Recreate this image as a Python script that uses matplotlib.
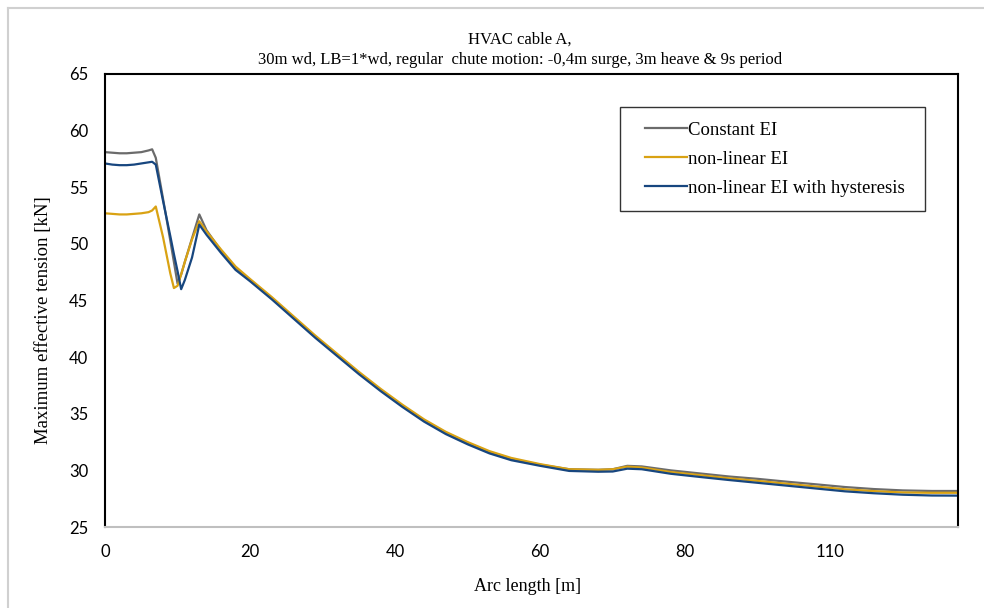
import numpy as np
import matplotlib.pyplot as plt
from matplotlib.lines import Line2D
from matplotlib.legend_handler import HandlerLine2D

# Kategoriposisjon langs x-aksen (Excel-linjediagram, ujevn buelengde)
pos = [0, 1, 2, 3, 4, 5, 6, 6.5, 7, 8, 9, 9.5, 10, 10.5, 11, 12, 13, 14, 16, 18,
       20, 23, 26, 29, 32, 35, 38, 41, 44, 47, 50, 53, 56, 60, 64, 68, 70, 72, 74, 78,
       82, 86, 90, 94, 98, 102, 106, 110, 114, 117.6]

const_ei = [58.1, 58.05, 58.0, 58.0, 58.05, 58.1, 58.25, 58.35, 57.6, 54.0, 50.3, 48.4, 46.5, 47.3, 48.4, 50.5, 52.6, 51.2, 49.4, 47.9,
            46.8, 45.2, 43.5, 41.8, 40.2, 38.6, 37.1, 35.7, 34.4, 33.3, 32.4, 31.6, 31.0, 30.5, 30.1, 30.05, 30.1, 30.4, 30.35, 30.0,
            29.73, 29.46, 29.25, 29.0, 28.77, 28.53, 28.35, 28.23, 28.18, 28.18]

nonlin_ei = [52.7, 52.65, 52.6, 52.6, 52.65, 52.7, 52.8, 52.95, 53.3, 50.6, 47.4, 46.1, 46.3, 47.3, 48.4, 50.4, 52.0, 51.1, 49.5, 48.0,
             46.9, 45.3, 43.6, 41.9, 40.3, 38.7, 37.2, 35.8, 34.5, 33.4, 32.5, 31.7, 31.1, 30.55, 30.1, 30.05, 30.1, 30.33, 30.25, 29.85,
             29.58, 29.3, 29.07, 28.82, 28.57, 28.33, 28.17, 28.05, 28.02, 28.02]

hyst_ei = [57.1, 57.0, 56.95, 56.95, 57.0, 57.1, 57.2, 57.25, 57.0, 53.8, 50.7, 49.1, 47.6, 46.0, 46.8, 48.8, 51.7, 50.8, 49.2, 47.7,
           46.7, 45.1, 43.4, 41.7, 40.1, 38.5, 37.0, 35.6, 34.3, 33.2, 32.3, 31.5, 30.9, 30.4, 29.95, 29.88, 29.9, 30.15, 30.1, 29.7,
           29.42, 29.15, 28.9, 28.65, 28.4, 28.15, 27.98, 27.85, 27.78, 27.77]

labels = ["Constant EI", "non-linear EI", "non-linear EI with hysteresis"]
xtick_pos = [0, 20, 40, 60, 80, 100]
xtick_lab = ["0", "20", "40", "60", "80", "110"]

serif = "Liberation Serif"

fig = plt.figure(figsize=(9.84, 6.08), dpi=100)
ax = fig.add_axes([105/984, 1-527/608, (958-105)/984, (527-74)/608])

ax.plot(pos, const_ei, color="#6b6b6b", lw=1.6, label=labels[0])
ax.plot(pos, nonlin_ei, color="#D9A213", lw=1.6, label=labels[1])
ax.plot(pos, hyst_ei, color="#17467F", lw=1.6, label=labels[2])

ax.set_xlim(0, 117.6)
ax.set_ylim(25, 65)
ax.set_yticks(np.arange(25, 66, 5))
ax.set_xticks(xtick_pos)
ax.set_xticklabels(xtick_lab)
ax.tick_params(length=0, labelsize=12)
ax.tick_params(axis="x", pad=12)
ax.tick_params(axis="y", pad=12)
for t in ax.get_xticklabels() + ax.get_yticklabels():
    t.set_fontfamily("Lato")

for s in ["left", "top", "right"]:
    ax.spines[s].set_color("black")
    ax.spines[s].set_linewidth(1.5)
ax.spines["bottom"].set_color("#bfbfbf")
ax.spines["bottom"].set_linewidth(1.5)

ax.set_xlabel("Arc length [m]", fontfamily=serif, fontsize=13)
ax.set_ylabel("Maximum effective tension [kN]", fontfamily=serif, fontsize=13.5)
ax.xaxis.set_label_coords(0.495, -0.1125)
ax.yaxis.set_label_coords(-0.062, 0.457)

fig.text(520/984, 1-40/608, "HVAC cable A,", ha="center", va="center", fontfamily=serif, fontsize=12)
fig.text(520/984, 1-60/608, "30m wd, LB=1*wd, regular  chute motion: -0,4m surge, 3m heave & 9s period",
         ha="center", va="center", fontfamily=serif, fontsize=12)

leg = ax.legend(loc="upper left", bbox_to_anchor=(0.6038, 0.5, 0.3576, 0.4272), mode="expand",
                prop={"family": serif, "size": 13.5},
                frameon=True, fancybox=False, handlelength=2.82, handletextpad=0.05,
                labelspacing=0.64, borderpad=0.77, borderaxespad=0,
                handler_map={Line2D: HandlerLine2D(xpad=0.58)})
leg.get_frame().set_edgecolor("black")
leg.get_frame().set_linewidth(1.0)

# ramme rundt diagramomraadet
fig.add_artist(Line2D([8/984, 8/984], [0, 1-8/608], color="#d0d0d0", lw=1.5))
fig.add_artist(Line2D([8/984, 1], [1-8/608, 1-8/608], color="#d0d0d0", lw=1.5))

fig.savefig("out.png", dpi=100)
